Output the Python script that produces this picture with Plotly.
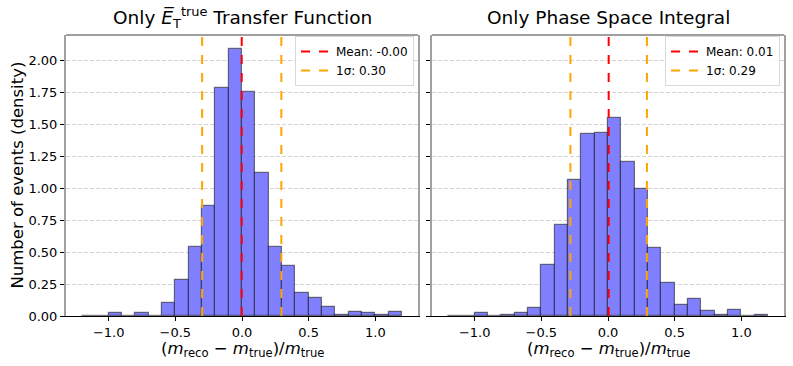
import numpy as np
import plotly.graph_objects as go

# histogram bins (width 0.1) from -1.2 to 1.2
bin_edges = np.round(np.linspace(-1.2, 1.2, 25), 2)
bin_centers = (bin_edges[:-1] + bin_edges[1:]) / 2

# densities
density_tf = [0.0, 0.0, 0.02, 0.0, 0.02, 0.0, 0.10, 0.28, 0.54, 0.86, 1.78, 2.09,
              1.75, 1.12, 0.54, 0.39, 0.18, 0.14, 0.07, 0.01, 0.03, 0.02, 0.01, 0.03]
density_ps = [0.0, 0.0, 0.02, 0.0, 0.01, 0.02, 0.06, 0.40, 0.71, 1.06, 1.42, 1.43,
              1.55, 1.20, 0.99, 0.53, 0.26, 0.09, 0.13, 0.04, 0.01, 0.05, 0.0, 0.01]

means = [-0.002, 0.005]
sigmas = [0.297, 0.287]
mean_labels = ["Mean: -0.00", "Mean: 0.01"]
sigma_labels = ["1σ: 0.30", "1σ: 0.29"]

titles = ["Only <i>E\u0305</i><sub>T</sub><sup>true</sup> Transfer Function",
          "Only Phase Space Integral"]
x_title = "(<i>m</i><sub>reco</sub> \u2212 <i>m</i><sub>true</sub>)/<i>m</i><sub>true</sub>"
y_title = "Number of events (density)"

W, H = 793, 366
y_top = 2.196
x_range = [-1.32, 1.32]

# vertical positions are given in target pixels, stretched slightly (KY)
KY = 1.0225


def py(p):
    """paper y fraction for a target pixel row"""
    return 1 - p * KY / H


# panel boxes in pixels (left, right)
panels = [(66, 418), (432, 784)]
top_px, bot_px = 35, 316
FONT = "DejaVu Sans"

fig = go.Figure()

for i, dens in enumerate([density_tf, density_ps]):
    xa = "x" if i == 0 else "x2"
    ya = "y" if i == 0 else "y2"
    leg = "legend" if i == 0 else "legend2"
    fig.add_trace(go.Bar(
        x=bin_centers, y=dens, width=0.1,
        marker=dict(color="#8080ff", line=dict(color="rgba(0,0,0,0.5)", width=1.2)),
        xaxis=xa, yaxis=ya, showlegend=False,
    ))
    m, s = means[i], sigmas[i]
    fig.add_trace(go.Scatter(
        x=[m, m], y=[0, y_top], mode="lines", name=mean_labels[i],
        line=dict(color="red", dash="dash", width=2),
        xaxis=xa, yaxis=ya, legend=leg,
    ))
    fig.add_trace(go.Scatter(
        x=[m - s, m - s, None, m + s, m + s], y=[0, y_top, None, 0, y_top],
        mode="lines", name=sigma_labels[i],
        line=dict(color="orange", dash="dash", width=2),
        xaxis=xa, yaxis=ya, legend=leg,
    ))

y_dom = [py(bot_px), py(top_px)]
axis_common = dict(ticks="outside", ticklen=4, tickcolor="black",
                   tickfont=dict(family=FONT, size=13, color="black"))
grid = dict(showgrid=True, gridcolor="#d3d3d3", griddash="4px,2px", gridwidth=0.8)

fig.update_layout(
    width=W, height=H,
    margin=dict(l=0, r=0, t=0, b=0),
    plot_bgcolor="white", paper_bgcolor="white",
    bargap=0,
    xaxis=dict(domain=[panels[0][0] / W, panels[0][1] / W], range=x_range,
               tickvals=[-1, -0.5, 0, 0.5, 1], tickformat=".1f",
               showgrid=False, zeroline=False, showline=True, linecolor="black",
               linewidth=1, anchor="y", **axis_common),
    xaxis2=dict(domain=[panels[1][0] / W, panels[1][1] / W], range=x_range,
                tickvals=[-1, -0.5, 0, 0.5, 1], tickformat=".1f",
                showgrid=False, zeroline=False, showline=True, linecolor="black",
                linewidth=1, anchor="y2", **axis_common),
    yaxis=dict(domain=y_dom, range=[0, y_top], dtick=0.25, tickformat=".2f",
               zeroline=False, showline=True, linecolor="#a0a0a0", linewidth=2,
               mirror=True, anchor="x", **grid, **axis_common),
    yaxis2=dict(domain=y_dom, range=[0, y_top], dtick=0.25, matches="y",
                showticklabels=False,
                zeroline=False, showline=True, linecolor="#a0a0a0", linewidth=2,
                mirror=True, anchor="x2", **grid, **axis_common),
    legend=dict(x=414 / W, y=py(36), xanchor="right", yanchor="top",
                bgcolor="rgba(255,255,255,0.85)", bordercolor="#d8d8d8", borderwidth=1,
                font=dict(family=FONT, size=12, color="black"),
                itemwidth=30, tracegroupgap=0),
    legend2=dict(x=780 / W, y=py(36), xanchor="right", yanchor="top",
                 bgcolor="rgba(255,255,255,0.85)", bordercolor="#d8d8d8", borderwidth=1,
                 font=dict(family=FONT, size=12, color="black"),
                 itemwidth=30, tracegroupgap=0),
)

# top spines
for i in range(2):
    fig.add_shape(type="line", xref=("x" if i == 0 else "x2") + " domain",
                  yref=("y" if i == 0 else "y2") + " domain",
                  x0=0, x1=1, y0=1, y1=1, line=dict(color="#a0a0a0", width=2))

for i, (l, r) in enumerate(panels):
    cx = (l + r) / 2 / W
    fig.add_annotation(text=titles[i], x=cx, y=py(17), xref="paper", yref="paper",
                       showarrow=False, xanchor="center", yanchor="middle",
                       font=dict(family=FONT, size=18.5, color="black"))
    fig.add_annotation(text=x_title, x=cx, y=py(349), xref="paper", yref="paper",
                       showarrow=False, xanchor="center", yanchor="middle",
                       font=dict(family=FONT, size=16.5, color="black"))

fig.add_annotation(text=y_title, x=18 / W, y=py((top_px + bot_px) / 2),
                   xref="paper", yref="paper", showarrow=False, textangle=-90,
                   xanchor="center", yanchor="middle",
                   font=dict(family=FONT, size=16.5, color="black"))

fig.write_html(
    "out.html",
    config={"displayModeBar": False},
    post_script=("var s='margin:0;padding:0;overflow:hidden;height:366px;width:793px;';"
                 "document.documentElement.style.cssText=s;"
                 "document.body.style.cssText=s;"),
)
